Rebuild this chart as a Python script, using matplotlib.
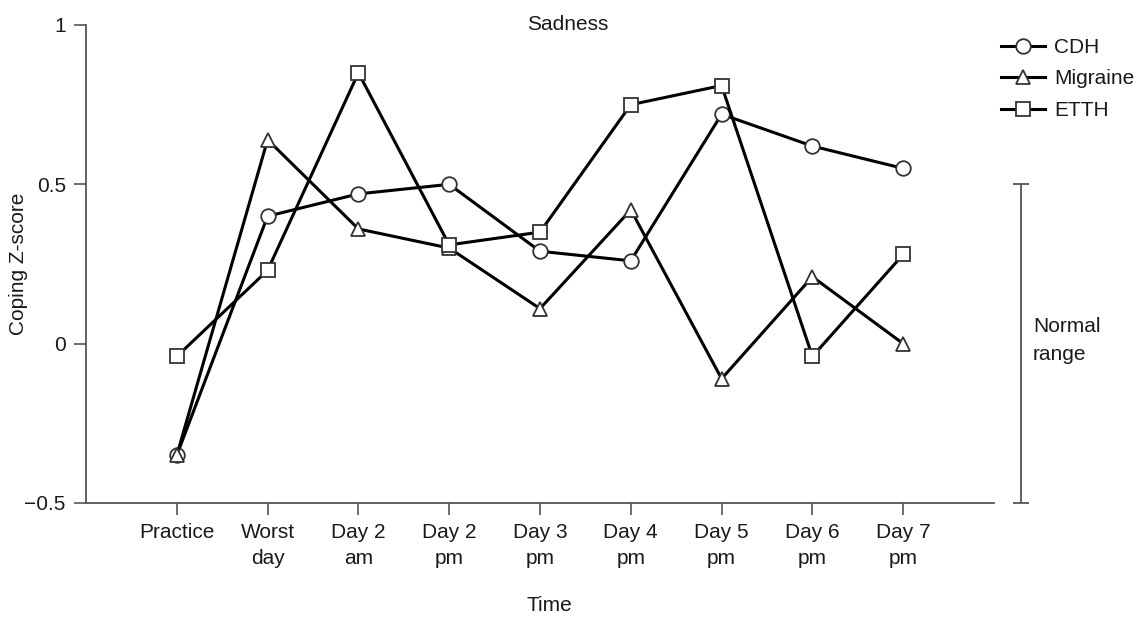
import matplotlib
import matplotlib.pyplot as plt
matplotlib.use('Agg')

plt.rcParams['font.family'] = ['Liberation Sans', 'DejaVu Sans']

time_points = ['Practice', 'Worst\nday', 'Day 2\nam', 'Day 2\npm', 'Day 3\npm',
               'Day 4\npm', 'Day 5\npm', 'Day 6\npm', 'Day 7\npm']
cdh = [-0.35, 0.40, 0.47, 0.50, 0.29, 0.26, 0.72, 0.62, 0.55]
migraine = [-0.35, 0.64, 0.36, 0.30, 0.11, 0.42, -0.11, 0.21, 0.00]
etth = [-0.04, 0.23, 0.85, 0.31, 0.35, 0.75, 0.81, -0.04, 0.28]

y_ticks = [-0.5, 0, 0.5, 1]
y_tick_labels = ['\u22120.5', '0', '0.5', '1']
normal_range = (-0.5, 0.5)

axis_grey = '#555555'
text_col = '#1a1a1a'

fig = plt.figure(figsize=(11.46, 6.22), dpi=100)
ax = fig.add_axes([86 / 1146, 1 - 503 / 622, 908 / 1146, 478 / 622])

x = list(range(len(time_points)))
series = [('CDH', cdh, 'o'), ('Migraine', migraine, '^'), ('ETTH', etth, 's')]
for name, vals, mk in series:
    ax.plot(x, vals, color='black', lw=2.2, marker=mk, markersize=10.5,
            markerfacecolor='white', markeredgecolor='#333333',
            markeredgewidth=1.3, label=name, clip_on=False, zorder=3)

ax.set_xlim(-1, 9)
ax.set_ylim(-0.5, 1)
ax.set_xticks(x)
ax.set_xticklabels(time_points, fontsize=15, color=text_col, linespacing=1.45)
ax.set_yticks(y_ticks)
ax.set_yticklabels(y_tick_labels, fontsize=15, color=text_col)
ax.tick_params(direction='out', length=8.5, width=1.2, color=axis_grey,
               pad=6)

for side in ['top', 'right']:
    ax.spines[side].set_visible(False)
for side in ['left', 'bottom']:
    ax.spines[side].set_color(axis_grey)
    ax.spines[side].set_linewidth(1.3)

ax.set_ylabel('Coping Z-score', fontsize=15, color=text_col)
ax.yaxis.set_label_coords(-58 / 908, 0.5)
ax.set_xlabel('Time', fontsize=15, color=text_col)
ax.xaxis.set_label_coords(0.51, -0.195)
ax.text(0.53, 1.0, 'Sadness', transform=ax.transAxes, ha='center',
        va='center', fontsize=15, color=text_col)

# normal range bracket to the right of the plot
ax.errorbar([9.3], [sum(normal_range) / 2],
            yerr=[[0.5 * (normal_range[1] - normal_range[0])]],
            fmt='none', ecolor=axis_grey, elinewidth=1.3, capsize=6,
            capthick=1.3, clip_on=False)
ax.text(9.43, 0.01, 'Normal\nrange', fontsize=15, color=text_col,
        ha='left', va='center', linespacing=1.6)

leg = ax.legend(loc='upper left', bbox_to_anchor=(1001 / 1146, 1 - 38 / 622),
                bbox_transform=fig.transFigure, frameon=False, fontsize=15,
                handlelength=2.1, handletextpad=0.45, labelspacing=0.6,
                borderpad=0, borderaxespad=0)
for t in leg.get_texts():
    t.set_color(text_col)

fig.savefig('out.png', dpi=100)
